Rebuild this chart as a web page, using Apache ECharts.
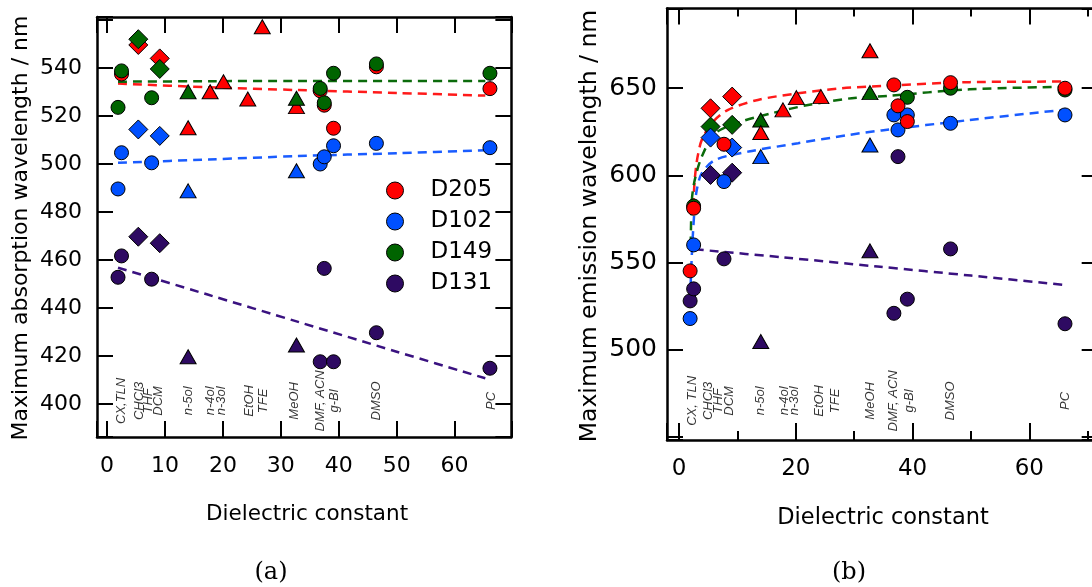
<!DOCTYPE html>
<html>
<head>
<meta charset="utf-8">
<script src="https://cdn.jsdelivr.net/npm/echarts@6/dist/echarts.min.js"></script>
<style>html,body{margin:0;padding:0;background:#fff}#c{width:1092px;height:587px}</style>
</head>
<body>
<div id="c"></div>
<script>
// ---------- data ----------
const solvents = ['CX','TLN','CHCl3','THF','DCM','n-5ol','n-4ol','n-3ol','EtOH','TFE','MeOH','DMF','ACN','g-BL','DMSO','PC'];
const dielectric = [1.9, 2.5, 5.4, 7.7, 9.1, 14.0, 17.8, 20.1, 24.3, 26.8, 32.7, 36.8, 37.5, 39.1, 46.5, 66.1];
const solventClass = ['aprotic','aprotic','chlorinated','aprotic','chlorinated','alcohol','alcohol','alcohol','alcohol','alcohol','alcohol','aprotic','aprotic','aprotic','aprotic','aprotic'];
const dyes = ['D205','D102','D149','D131'];

// (a) absorption maxima / nm
const absD205 = [null, 537.5, 549.6, null, 544.0, 515.1, 530.1, 534.3, 527.1, 557.2, 523.9, 530.5, 524.5, 514.9, 540.5, 531.4];
const absD102 = [489.6, 504.7, 514.4, 500.5, 511.7, 488.8, null, null, null, null, 497.2, 500.0, 503.0, 507.6, 508.6, 506.8];
const absD149 = [523.6, 538.8, 552.0, 527.6, 539.6, 530.1, null, null, null, null, 527.4, 531.5, 525.5, 537.8, 541.7, 537.8];
const absD131 = [452.8, 461.7, 469.7, 452.0, 467.0, 419.7, null, null, null, null, 424.6, 417.6, 456.5, 417.6, 429.7, 414.9];

// (b) emission maxima / nm
const emD205 = [545.3, 581.2, 638.5, 617.9, 645.2, 624.6, 637.6, 644.6, 645.2, null, 671.5, 651.9, 639.9, 630.9, 653.2, 650.0];
const emD102 = [518.0, 560.2, 621.7, 596.5, 616.0, 610.8, null, null, null, null, 617.5, 634.7, 626.1, 634.7, 629.9, 634.7];
const emD149 = [null, 582.5, 628.0, null, 629.0, 631.8, null, null, null, null, 647.5, null, null, 644.8, 650.0, 649.0];
const emD131 = [528.1, 535.0, 600.3, 552.2, 601.6, 504.8, null, null, null, null, 556.8, 521.0, 610.8, 529.1, 557.9, 515.0];

// dashed trend lines
const absFitX = [1.9, 17.5, 33.0, 50.0, 65.3];
const absFitD205 = [533.5, 532.0, 530.8, 529.6, 528.5];
const absFitD102 = [500.5, 501.9, 503.3, 504.5, 505.7];
const absFitD149 = [534.3, 534.5, 534.6, 534.6, 534.6];
const absFitD131 = [456.8, 445.5, 434.2, 421.8, 410.7];

const emFitD205X = [2.4, 2.7, 3.0, 3.3, 3.9, 5.6, 8.4, 13.5, 20.4, 27.9, 34.7, 49.8, 65.8];
const emFitD205 = [582.0, 598.0, 607.0, 612.8, 620.4, 630.0, 637.6, 643.3, 647.1, 650.0, 651.3, 653.5, 653.8];
const emFitD149X = [2.0, 2.2, 2.7, 3.9, 6.2, 10.7, 15.9, 22.1, 29.6, 35.6, 49.8, 65.8];
const emFitD149 = [560.0, 586.0, 597.5, 610.8, 624.2, 630.9, 635.7, 640.4, 644.3, 645.6, 649.4, 650.8];
const emFitD102X = [1.9, 2.2, 2.6, 3.0, 3.9, 6.2, 11.9, 20.4, 29.0, 34.7, 49.8, 65.8];
const emFitD102 = [528.6, 555.0, 578.0, 591.0, 601.3, 608.9, 613.7, 618.5, 623.2, 625.8, 631.8, 637.6];
const emFitD131X = [2.7, 18.0, 34.0, 50.0, 65.8];
const emFitD131 = [557.7, 553.0, 547.8, 542.6, 537.3];

// solvent tags along the bottom of each panel
const tagsA = ['CX,TLN','CHCl3','THF','DCM','n-5ol','n-4ol','n-3ol','EtOH','TFE','MeOH','DMF, ACN','g-Bl','DMSO','PC'];
const tagsAEps = [2.5, 5.6, 7.1, 8.8, 14.1, 17.8, 19.7, 24.5, 27.0, 32.4, 36.8, 39.3, 46.5, 66.4];
const tagsB = ['CX, TLN','CHCl3','THF','DCM','n-5ol','n-4ol','n-3ol','EtOH','TFE','MeOH','DMF, ACN','g-Bl','DMSO','PC'];
const tagsBEps = [2.3, 5.1, 6.7, 8.7, 13.9, 18.0, 19.7, 24.1, 26.7, 32.7, 36.7, 39.4, 46.4, 66.1];

// tick label values
const ticksAX = [0, 10, 20, 30, 40, 50, 60];
const ticksAY = [400, 420, 440, 460, 480, 500, 520, 540];
const ticksBX = [0, 20, 40, 60];
const ticksBY = [500, 550, 600, 650];

// ---------- styling / layout ----------
const colors = {D205: '#ff0000', D102: '#0050ff', D149: '#006400', D131: '#2e0a62'};
const lineColors = {D205: '#ff1a1a', D102: '#1a5cff', D149: '#0b6b0b', D131: '#3a1280'};
const shapeOf = {aprotic: {symbol: 'circle', size: 14}, chlorinated: {symbol: 'diamond', size: 19}, alcohol: {symbol: 'triangle', size: [16, 14]}};
const SANS = 'DejaVu Sans';

// splitNumber picks the nice tick step (10 / 20 / 20 / 50)
const PA = {left: 97, top: 17, x: {min: -1.73, max: 69.8, k: 5.793, split: 7}, y: {min: 386.25, max: 561.25, k: 2.4, split: 9}};
const PB = {left: 667, top: 8.5, x: {min: -2.06, max: 71.7, k: 5.839, split: 4}, y: {min: 448.4, max: 695.7, k: 1.7447, split: 5}};
function W(p) { return (p.x.max - p.x.min) * p.x.k; }
function H(p) { return (p.y.max - p.y.min) * p.y.k; }

function pts(vals) {
  const out = [];
  vals.forEach((v, i) => {
    if (v == null) return;
    const s = shapeOf[solventClass[i]];
    out.push({value: [dielectric[i], v], symbol: s.symbol, symbolSize: s.size});
  });
  return out;
}
function scatter(name, vals, xi, yi) {
  return {name, type: 'scatter', xAxisIndex: xi, yAxisIndex: yi, z: 2, data: pts(vals),
    itemStyle: {color: colors[name], borderColor: '#000', borderWidth: 1, opacity: 1},
    emphasis: {disabled: true}, silent: true};
}
function fit(name, xs, ys, xi, yi) {
  return {name: name + ' fit', type: 'line', xAxisIndex: xi, yAxisIndex: yi, z: 1,
    data: xs.map((x, i) => [x, ys[i]]), symbol: 'none', smooth: 0.3,
    lineStyle: {color: lineColors[name], width: 2.5, type: [9, 6]}, silent: true};
}
function tags(texts, eps, y, xi, yi) {
  return {type: 'scatter', xAxisIndex: xi, yAxisIndex: yi, z: 5, silent: true,
    data: texts.map((t, i) => ({value: [eps[i], y], name: t})),
    symbolSize: 1, itemStyle: {color: 'rgba(0,0,0,0)'},
    label: {show: true, formatter: '{b}', rotate: 90, position: 'inside', align: 'center', verticalAlign: 'middle',
      fontStyle: 'italic', fontSize: 13, fontFamily: 'Liberation Sans', color: '#000'}};
}

const frameLine = {show: true, onZero: false, lineStyle: {color: '#000', width: 2.5}};
function axis(grid, r, pos, tickLen, minor, labelVals, labelStyle) {
  return {type: 'value', gridIndex: grid, position: pos, min: r.min, max: r.max, splitNumber: r.split,
    axisLine: frameLine, splitLine: {show: false}, minorSplitLine: {show: false},
    axisTick: {show: true, inside: true, length: tickLen, lineStyle: {color: '#000', width: 2}},
    minorTick: minor ? {show: true, splitNumber: 2, length: minor, lineStyle: {color: '#000', width: 2}} : {show: false},
    axisLabel: labelVals ? Object.assign({show: true, customValues: labelVals, fontFamily: SANS, color: '#000'}, labelStyle) : {show: false}};
}

const option = {
  animation: false,
  backgroundColor: '#fff',
  grid: [
    {left: PA.left, top: PA.top, width: W(PA), height: H(PA), outerBoundsMode: 'none', containLabel: false},
    {left: PB.left, top: PB.top, width: W(PB), height: H(PB), outerBoundsMode: 'none', containLabel: false}
  ],
  xAxis: [
    axis(0, PA.x, 'bottom', 16, 0, ticksAX, {fontSize: 22, margin: 18}),
    axis(0, PA.x, 'top', 16, 0),
    axis(1, PB.x, 'bottom', 17, 9, ticksBX, {fontSize: 23, margin: 18}),
    axis(1, PB.x, 'top', 16, 8)
  ],
  yAxis: [
    axis(0, PA.y, 'left', 16, 0, ticksAY, {fontSize: 22, margin: 15}),
    axis(0, PA.y, 'right', 16, 0),
    axis(1, PB.y, 'left', 16, 0, ticksBY, {fontSize: 25, margin: 10}),
    axis(1, PB.y, 'right', 16, 0)
  ],
  legend: {
    data: dyes.map(d => ({name: d, icon: 'circle'})),
    orient: 'vertical', left: 381, top: 174, itemWidth: 17, itemHeight: 17, itemGap: 8,
    selectedMode: false,
    itemStyle: {borderColor: '#000', borderWidth: 1},
    textStyle: {fontSize: 23, fontFamily: SANS, color: '#000', padding: [0, 0, 0, 22]}
  },
  graphic: [
    {type: 'text', x: 21, y: 228, rotation: Math.PI / 2, style: {text: 'Maximum absorption wavelength / nm', font: '22px "DejaVu Sans"', fill: '#000', textAlign: 'center', textVerticalAlign: 'middle'}},
    {type: 'text', x: 590, y: 226, rotation: Math.PI / 2, style: {text: 'Maximum emission wavelength / nm', font: '23.5px "DejaVu Sans"', fill: '#000', textAlign: 'center', textVerticalAlign: 'middle'}},
    {type: 'text', x: 307, y: 514, style: {text: 'Dielectric constant', font: '21.5px "DejaVu Sans"', fill: '#000', textAlign: 'center', textVerticalAlign: 'middle'}},
    {type: 'text', x: 883, y: 518, style: {text: 'Dielectric constant', font: '22.5px "DejaVu Sans"', fill: '#000', textAlign: 'center', textVerticalAlign: 'middle'}},
    {type: 'text', x: 271, y: 573, style: {text: '(a)', font: '24px "DejaVu Serif"', fill: '#000', textAlign: 'center', textVerticalAlign: 'middle'}},
    {type: 'text', x: 849, y: 573, style: {text: '(b)', font: '24px "DejaVu Serif"', fill: '#000', textAlign: 'center', textVerticalAlign: 'middle'}}
  ],
  series: [
    fit('D205', absFitX, absFitD205, 0, 0),
    fit('D149', absFitX, absFitD149, 0, 0),
    fit('D102', absFitX, absFitD102, 0, 0),
    fit('D131', absFitX, absFitD131, 0, 0),
    scatter('D205', absD205, 0, 0),
    scatter('D102', absD102, 0, 0),
    scatter('D149', absD149, 0, 0),
    scatter('D131', absD131, 0, 0),
    tags(tagsA, tagsAEps, 401.3, 0, 0),

    fit('D205', emFitD205X, emFitD205, 2, 2),
    fit('D149', emFitD149X, emFitD149, 2, 2),
    fit('D102', emFitD102X, emFitD102, 2, 2),
    fit('D131', emFitD131X, emFitD131, 2, 2),
    scatter('D149', emD149, 2, 2),
    scatter('D131', emD131, 2, 2),
    scatter('D102', emD102, 2, 2),
    scatter('D205', emD205, 2, 2),
    tags(tagsB, tagsBEps, 470.8, 2, 2)
  ]
};
const chart = echarts.init(document.getElementById('c'), null, {renderer: 'canvas'});
chart.setOption(option);
</script>
</body>
</html>
